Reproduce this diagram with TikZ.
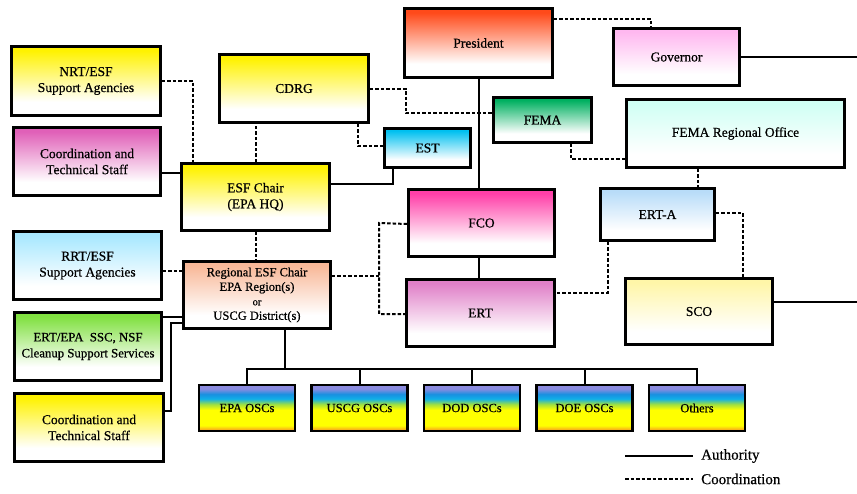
\documentclass[tikz,border=0pt]{standalone}
\usepackage{fontspec}
\setmainfont{Liberation Serif}
\newfontfamily\dfont[FakeBold=0.6]{Liberation Serif}
\definecolor{cyel}{HTML}{FFF200}
\definecolor{cpink}{HTML}{E060B8}
\definecolor{cpres}{HTML}{FF4A1A}
\definecolor{cest}{HTML}{00C0F0}
\definecolor{cfema}{HTML}{00B060}
\definecolor{cgov}{HTML}{FFB8F0}
\definecolor{cfro}{HTML}{D0FFF4}
\definecolor{certa}{HTML}{B8DCF8}
\definecolor{csco}{HTML}{FFF6A8}
\definecolor{cfco}{HTML}{FF3FA8}
\definecolor{cert}{HTML}{E080C8}
\definecolor{cresf}{HTML}{F8B898}
\definecolor{crrt}{HTML}{A8E8FF}
\definecolor{cssc}{HTML}{80E040}
\definecolor{oscor}{HTML}{F8A020}
\definecolor{oscye}{HTML}{FFFF00}
\definecolor{oscgr}{HTML}{A0E040}
\definecolor{osccy}{HTML}{10B0E8}
\definecolor{oscbl}{HTML}{1890E0}
\definecolor{osclv}{HTML}{8C8CE0}
\colorlet{tcol}{white}
\pgfdeclareverticalshading{oscshade}{100bp}{color(0bp)=(oscor); color(26bp)=(oscor); color(31bp)=(oscye); color(48bp)=(oscye); color(54bp)=(oscgr); color(60bp)=(osccy); color(65bp)=(oscbl); color(71bp)=(osclv); color(100bp)=(osclv)}
\pgfdeclareverticalshading[tcol]{fadeshade}{100bp}{color(0bp)=(white); color(35bp)=(white); color(72bp)=(tcol); color(100bp)=(tcol)}
\begin{document}
\begin{tikzpicture}[x=1pt,y=-1pt,
  bx/.style={draw=black, line width=2.6pt, align=center, inner sep=2pt,
    font=\dfont\fontsize{13.5}{16}\selectfont},
  fillc/.style={/utils/exec={\colorlet{tcol}{#1}}, shading=fadeshade},
  oscbox/.style={bx, shading=oscshade, minimum width=96pt, minimum height=46pt,
    font=\dfont\fontsize{12.5}{14}\selectfont},
  auth/.style={draw=black, line width=2pt},
  coord/.style={draw=black, line width=2pt, dash pattern=on 3.5pt off 2pt}]
\useasboundingbox (0,0) rectangle (857,493);

% nodes
\node[bx, fillc=cyel, minimum width=149pt, minimum height=69pt] (nrt) at (86,81) {NRT/ESF\\Support Agencies};
\node[bx, fillc=cpink, minimum width=147pt, minimum height=68pt] (cts1) at (87,161.5) {Coordination and\\Technical Staff};
\node[bx, fillc=cyel, minimum width=149pt, minimum height=68pt] (cdrg) at (294,88.5) {CDRG};
\node[bx, fillc=cyel, minimum width=148pt, minimum height=67pt] (esf) at (255.5,197) {ESF Chair\\(EPA HQ)};
\node[bx, fillc=cest, minimum width=86pt, minimum height=39pt] (est) at (427.5,148) {EST};
\node[bx, fillc=cpres, minimum width=148pt, minimum height=69pt] (pres) at (478.5,43) {President};
\node[bx, fillc=cfema, minimum width=98pt, minimum height=45pt] (fema) at (542.5,120) {FEMA};
\node[bx, fillc=cgov, minimum width=126pt, minimum height=57pt] (gov) at (676.5,57) {Governor};
\node[bx, fillc=cfro, minimum width=218pt, minimum height=68pt] (fro) at (735.5,133.5) {FEMA Regional Office};
\node[bx, fillc=certa, minimum width=114pt, minimum height=52pt] (erta) at (657.5,214.5) {ERT-A};
\node[bx, fillc=csco, minimum width=147pt, minimum height=66pt] (sco) at (699,311.5) {SCO};
\node[bx, fillc=cfco, minimum width=146pt, minimum height=67pt] (fco) at (481.5,223) {FCO};
\node[bx, fillc=cert, minimum width=148pt, minimum height=67pt] (ert) at (480.5,313) {ERT};
\node[bx, fillc=cresf, minimum width=147pt, minimum height=67pt, font=\dfont\fontsize{12.5}{14.5}\selectfont] (resf) at (257,295) {Regional ESF Chair\\EPA Region(s)\\{\fontsize{10.5}{12}\selectfont or}\\USCG District(s)};
\node[bx, fillc=crrt, minimum width=148pt, minimum height=68pt] (rrt) at (87.5,265.5) {RRT/ESF\\Support Agencies};
\node[bx, fillc=cssc, minimum width=147pt, minimum height=68pt, font=\dfont\fontsize{12.8}{16}\selectfont] (ssc) at (88,346.5) {ERT/EPA~~SSC, NSF\\Cleanup Support Services};
\node[bx, fillc=cyel, minimum width=149pt, minimum height=68pt] (cts2) at (89,427.5) {Coordination and\\Technical Staff};

\node[oscbox] (epa) at (247,408) {EPA OSCs};
\node[oscbox] (uscg) at (359.5,408) {USCG OSCs};
\node[oscbox] (dod) at (472,408) {DOD OSCs};
\node[oscbox] (doe) at (584.5,408) {DOE OSCs};
\node[oscbox] (oth) at (697,408) {Others};

\coordinate (edge) at (857,0);
\coordinate (bus) at ([yshift=15pt]epa.north);
\coordinate (jn) at ([xshift=-28pt]fco.west);

% authority connectors
\draw[auth] ([yshift=-11.5pt]cts1.east) -- ([yshift=-11.5pt]cts1.east -| esf.west);
\draw[auth] ([xshift=-34.5pt]est.south) |- ([yshift=13pt]esf.east);
\draw[auth] (pres.south) -- (pres.south |- fco.north);
\draw[auth] (fco.south -| pres.south) -- (ert.north -| pres.south);
\draw[auth] (gov.east) -- (gov.east -| edge);
\draw[auth] ([yshift=9.5pt]sco.east) -- ([yshift=9.5pt]sco.east -| edge);
\draw[auth] ([yshift=29.5pt]ssc.east) -- ([yshift=29.5pt]ssc.east -| resf.west);
\draw[auth] ([yshift=16.5pt]cts2.east) -- ++(6,0) |- ([yshift=-28pt]resf.west);
\draw[auth] ([xshift=28pt]resf.south) -- ([xshift=28pt]resf.south |- bus);
\draw[auth] (epa.north) |- (bus) -| (oth.north);
\draw[auth] (uscg.north) -- (uscg.north |- bus);
\draw[auth] (dod.north) -- (dod.north |- bus);
\draw[auth] (doe.north) -- (doe.north |- bus);

% coordination connectors
\draw[coord] (nrt.east) -| ([xshift=13pt]esf.north west);
\draw[coord] (esf.north) -- (esf.north |- cdrg.south);
\draw[coord] (cdrg.east) -- ++(36,0) |- ([yshift=7pt]fema.west);
\draw[coord] ([xshift=64pt]cdrg.south) |- ([yshift=2pt]est.west);
\draw[coord] ([yshift=24pt]pres.east) -| ([xshift=-25.5pt]gov.north);
\draw[coord] ([xshift=28.5pt]fema.south) |- ([yshift=-25.5pt]fro.west);
\draw[coord] ([xshift=-37.5pt]fro.south) -- ([xshift=-37.5pt]fro.south |- erta.north);
\draw[coord] ([yshift=1.5pt]erta.east) -| ([xshift=44pt]sco.north);
\draw[coord] ([xshift=-49.5pt]erta.south) |- ([yshift=20pt]ert.east);
\draw[coord] ([yshift=-1pt]fco.west) -- (jn) |- ([yshift=-1pt]ert.west);
\draw[coord] ([yshift=19pt]resf.east) -- ([yshift=19pt]resf.east -| jn);
\draw[coord] (esf.south) -- (esf.south |- resf.north);
\draw[coord] ([yshift=-5.5pt]rrt.east) -- ([yshift=-5.5pt]rrt.east -| resf.west);

% legend
\node[anchor=west, inner sep=0pt, font=\dfont\fontsize{15}{16}\selectfont] (la) at (701,456) {Authority};
\node[anchor=west, inner sep=0pt, font=\dfont\fontsize{15}{16}\selectfont] (lc) at (701,479) {Coordination};
\coordinate (las) at (625,456);
\coordinate (lcs) at (625,479);
\draw[auth] (las) -- ([xshift=-8pt]la.west);
\draw[coord] (lcs) -- ([xshift=-8pt]lc.west);
\end{tikzpicture}
\end{document}
